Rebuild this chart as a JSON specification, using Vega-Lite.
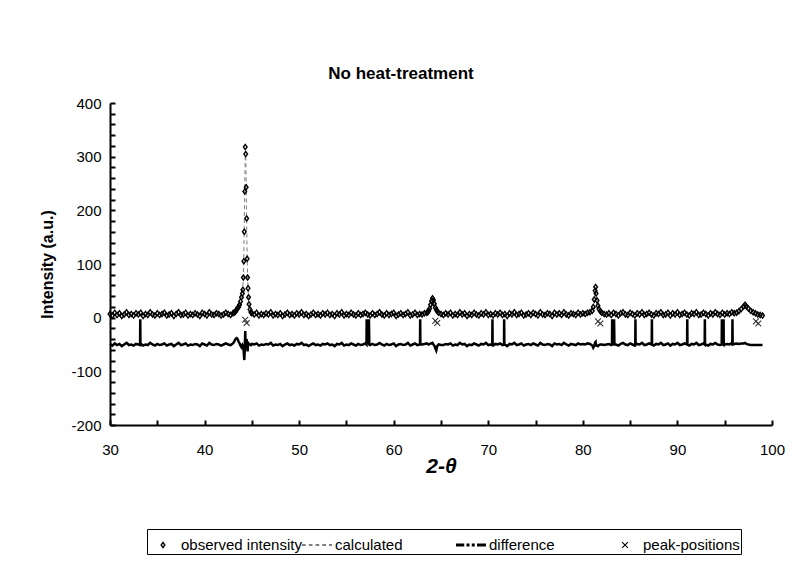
{
 "$schema": "https://vega.github.io/schema/vega-lite/v6.json",
 "width": 662,
 "height": 322,
 "autosize": {"type": "none"},
 "padding": {"left": 110, "top": 103, "right": 27, "bottom": 146},
 "background": "white",
 "config": {"view": {"stroke": null}, "font": "Liberation Sans"},
 "title": {"text": "No heat-treatment", "fontSize": 17, "fontWeight": "bold", "color": "black", "anchor": "middle", "dx": -40, "offset": 13},
 "datasets": {
  "scan": [
   {"t":30,"o":7,"c":6,"d":-49},{"t":30.25,"o":4,"c":6,"d":-52},{"t":30.5,"o":9,"c":6,"d":-48},{"t":30.75,"o":5,"c":6,"d":-51},
   {"t":31,"o":8,"c":6,"d":-49},{"t":31.25,"o":3,"c":6,"d":-53},{"t":31.5,"o":6,"c":6,"d":-50},{"t":31.75,"o":10,"c":6,"d":-47},
   {"t":32,"o":5,"c":6,"d":-51},{"t":32.25,"o":7,"c":6,"d":-50},{"t":32.5,"o":4,"c":6,"d":-52},{"t":32.75,"o":8,"c":6,"d":-49},
   {"t":33,"o":6,"c":6,"d":-50},{"t":33.18,"d":-51},{"t":33.2,"d":-3},{"t":33.22,"d":-50},
   {"t":33.25,"o":9,"c":6,"d":-48},{"t":33.5,"o":3,"c":6,"d":-52},{"t":33.75,"o":7,"c":6,"d":-50},
   {"t":34,"o":5,"c":6,"d":-51},{"t":34.25,"o":10,"c":6,"d":-47},{"t":34.5,"o":6,"c":6,"d":-50},{"t":34.75,"o":4,"c":6,"d":-52},
   {"t":35,"o":8,"c":6,"d":-49},{"t":35.25,"o":5,"c":6,"d":-51},{"t":35.5,"o":7,"c":6,"d":-50},{"t":35.75,"o":9,"c":6,"d":-48},
   {"t":36,"o":4,"c":6,"d":-52},{"t":36.25,"o":6,"c":6,"d":-50},{"t":36.5,"o":8,"c":6,"d":-49},{"t":36.75,"o":3,"c":6,"d":-53},
   {"t":37,"o":7,"c":6,"d":-50},{"t":37.25,"o":10,"c":6,"d":-47},{"t":37.5,"o":5,"c":6,"d":-51},{"t":37.75,"o":6,"c":6,"d":-50},
   {"t":38,"o":9,"c":6,"d":-48},{"t":38.25,"o":4,"c":6,"d":-52},{"t":38.5,"o":7,"c":6,"d":-50},{"t":38.75,"o":5,"c":6,"d":-51},
   {"t":39,"o":8,"c":6,"d":-49},{"t":39.25,"o":6,"c":6,"d":-50},{"t":39.5,"o":3,"c":6,"d":-53},{"t":39.75,"o":9,"c":6,"d":-48},
   {"t":40,"o":7,"c":6,"d":-50},{"t":40.25,"o":4,"c":6,"d":-52},{"t":40.5,"o":10,"c":6,"d":-47},{"t":40.75,"o":6,"c":6,"d":-50},
   {"t":41,"o":5,"c":6,"d":-51},{"t":41.25,"o":8,"c":6,"d":-49},{"t":41.5,"o":7,"c":6,"d":-50},{"t":41.75,"o":4,"c":6,"d":-52},
   {"t":42,"o":6,"c":6,"d":-50},{"t":42.25,"o":9,"c":7,"d":-48},{"t":42.5,"o":7,"c":7,"d":-50},{"t":42.75,"o":5,"c":7,"d":-51},
   {"t":43,"o":8,"c":7,"d":-48},{"t":43.1,"o":9,"c":7,"d":-46},{"t":43.2,"o":10,"c":8,"d":-42},{"t":43.3,"o":12,"c":10,"d":-39},
   {"t":43.4,"o":15,"c":13,"d":-38},{"t":43.5,"o":18,"c":16,"d":-40},{"t":43.6,"o":20,"c":19,"d":-45},{"t":43.7,"o":24,"c":24,"d":-48},
   {"t":43.8,"o":30,"c":31,"d":-52},{"t":43.9,"o":38,"c":40,"d":-55},{"t":44,"o":45,"c":46,"d":-51},{"t":44.05,"o":52,"c":55,"d":-53},
   {"t":44.1,"o":75,"c":80,"d":-55},{"t":44.15,"o":105,"c":120,"d":-65},{"t":44.2,"o":160,"c":175,"d":-79},{"t":44.25,"o":235,"c":245,"d":-60},
   {"t":44.3,"o":318,"c":300,"d":-25},{"t":44.35,"o":305,"c":310,"d":-55},{"t":44.4,"o":243,"c":250,"d":-57},{"t":44.45,"o":185,"c":175,"d":-40},
   {"t":44.5,"o":110,"c":115,"d":-55},{"t":44.55,"o":75,"c":78,"d":-63},{"t":44.6,"o":55,"c":52,"d":-47},{"t":44.65,"o":38,"c":36,"d":-48},
   {"t":44.7,"o":25,"c":26,"d":-49},{"t":44.8,"o":15,"c":15,"d":-50},{"t":44.9,"o":10,"c":10,"d":-51},{"t":45,"o":8,"c":7,"d":-49},
   {"t":45.25,"o":6,"c":6,"d":-50},{"t":45.5,"o":9,"c":6,"d":-48},{"t":45.75,"o":4,"c":6,"d":-52},
   {"t":46,"o":7,"c":6,"d":-50},{"t":46.25,"o":5,"c":6,"d":-51},{"t":46.5,"o":8,"c":6,"d":-49},{"t":46.75,"o":6,"c":6,"d":-50},
   {"t":47,"o":10,"c":6,"d":-47},{"t":47.25,"o":4,"c":6,"d":-52},{"t":47.5,"o":7,"c":6,"d":-50},{"t":47.75,"o":5,"c":6,"d":-51},
   {"t":48,"o":8,"c":6,"d":-49},{"t":48.25,"o":3,"c":6,"d":-53},{"t":48.5,"o":6,"c":6,"d":-50},{"t":48.75,"o":9,"c":6,"d":-48},
   {"t":49,"o":5,"c":6,"d":-51},{"t":49.25,"o":7,"c":6,"d":-50},{"t":49.5,"o":4,"c":6,"d":-52},{"t":49.75,"o":8,"c":6,"d":-49},
   {"t":50,"o":6,"c":6,"d":-50},{"t":50.25,"o":10,"c":6,"d":-47},{"t":50.5,"o":5,"c":6,"d":-51},{"t":50.75,"o":7,"c":6,"d":-50},
   {"t":51,"o":3,"c":6,"d":-53},{"t":51.25,"o":6,"c":6,"d":-50},{"t":51.5,"o":9,"c":6,"d":-48},{"t":51.75,"o":5,"c":6,"d":-51},
   {"t":52,"o":7,"c":6,"d":-50},{"t":52.25,"o":4,"c":6,"d":-52},{"t":52.5,"o":8,"c":6,"d":-49},{"t":52.75,"o":6,"c":6,"d":-50},
   {"t":53,"o":9,"c":6,"d":-48},{"t":53.25,"o":5,"c":6,"d":-51},{"t":53.5,"o":7,"c":6,"d":-50},{"t":53.75,"o":3,"c":6,"d":-53},
   {"t":54,"o":8,"c":6,"d":-49},{"t":54.25,"o":6,"c":6,"d":-50},{"t":54.5,"o":10,"c":6,"d":-47},{"t":54.75,"o":4,"c":6,"d":-52},
   {"t":55,"o":7,"c":6,"d":-50},{"t":55.25,"o":5,"c":6,"d":-51},{"t":55.5,"o":9,"c":6,"d":-48},{"t":55.75,"o":6,"c":6,"d":-50},
   {"t":56,"o":4,"c":6,"d":-52},{"t":56.25,"o":8,"c":6,"d":-49},{"t":56.5,"o":5,"c":6,"d":-51},{"t":56.75,"o":7,"c":6,"d":-50},
   {"t":57,"o":9,"c":6,"d":-48},{"t":57.12,"d":-50},{"t":57.14,"d":-3},{"t":57.2,"d":-50},{"t":57.24,"d":-3},
   {"t":57.25,"o":6,"c":6,"d":-50},{"t":57.3,"d":-3},{"t":57.34,"d":-50},{"t":57.38,"d":-3},{"t":57.42,"d":-50},
   {"t":57.5,"o":4,"c":6,"d":-51},{"t":57.75,"o":8,"c":6,"d":-49},
   {"t":58,"o":5,"c":6,"d":-51},{"t":58.25,"o":7,"c":6,"d":-50},{"t":58.5,"o":10,"c":6,"d":-47},{"t":58.75,"o":6,"c":6,"d":-50},
   {"t":59,"o":4,"c":6,"d":-52},{"t":59.25,"o":8,"c":6,"d":-49},{"t":59.5,"o":5,"c":6,"d":-51},{"t":59.75,"o":7,"c":6,"d":-50},
   {"t":60,"o":9,"c":6,"d":-48},{"t":60.25,"o":3,"c":6,"d":-53},{"t":60.5,"o":6,"c":6,"d":-50},{"t":60.75,"o":8,"c":6,"d":-49},
   {"t":61,"o":5,"c":6,"d":-51},{"t":61.25,"o":7,"c":6,"d":-50},{"t":61.5,"o":10,"c":6,"d":-47},{"t":61.75,"o":4,"c":6,"d":-52},
   {"t":62,"o":6,"c":6,"d":-50},{"t":62.25,"o":9,"c":6,"d":-48},{"t":62.5,"o":5,"c":6,"d":-51},{"t":62.75,"o":7,"c":6,"d":-50},
   {"t":62.78,"d":-50},{"t":62.8,"d":-3},{"t":62.82,"d":-50},
   {"t":63,"o":6,"c":6,"d":-50},{"t":63.25,"o":8,"c":7,"d":-49},{"t":63.5,"o":9,"c":8,"d":-48},
   {"t":63.6,"o":10,"c":9,"d":-49},{"t":63.7,"o":13,"c":12,"d":-50},{"t":63.8,"o":17,"c":16,"d":-49},{"t":63.9,"o":24,"c":22,"d":-48},
   {"t":64,"o":31,"c":29,"d":-48},{"t":64.1,"o":36,"c":33,"d":-47},{"t":64.2,"o":33,"c":32,"d":-50},{"t":64.3,"o":26,"c":27,"d":-52},
   {"t":64.4,"o":19,"c":21,"d":-57},{"t":64.5,"o":15,"c":16,"d":-61},{"t":64.6,"o":12,"c":12,"d":-53},{"t":64.75,"o":9,"c":9,"d":-50},
   {"t":65,"o":7,"c":7,"d":-51},{"t":65.25,"o":5,"c":6,"d":-51},{"t":65.5,"o":8,"c":6,"d":-49},{"t":65.75,"o":6,"c":6,"d":-50},
   {"t":66,"o":9,"c":6,"d":-48},{"t":66.25,"o":4,"c":6,"d":-52},{"t":66.5,"o":7,"c":6,"d":-50},{"t":66.75,"o":5,"c":6,"d":-51},
   {"t":67,"o":10,"c":6,"d":-47},{"t":67.25,"o":6,"c":6,"d":-50},{"t":67.5,"o":8,"c":6,"d":-49},{"t":67.75,"o":3,"c":6,"d":-53},
   {"t":68,"o":7,"c":6,"d":-50},{"t":68.25,"o":5,"c":6,"d":-51},{"t":68.5,"o":9,"c":6,"d":-48},{"t":68.75,"o":6,"c":6,"d":-50},
   {"t":69,"o":4,"c":6,"d":-52},{"t":69.25,"o":8,"c":6,"d":-49},{"t":69.5,"o":6,"c":6,"d":-50},{"t":69.75,"o":10,"c":6,"d":-47},
   {"t":70,"o":5,"c":6,"d":-51},{"t":70.25,"o":7,"c":6,"d":-50},{"t":70.42,"d":-51},{"t":70.44,"d":-3},{"t":70.46,"d":-51},
   {"t":70.5,"o":4,"c":6,"d":-52},{"t":70.75,"o":8,"c":6,"d":-49},
   {"t":71,"o":6,"c":6,"d":-50},{"t":71.25,"o":9,"c":6,"d":-48},{"t":71.5,"o":5,"c":6,"d":-51},
   {"t":71.66,"d":-50},{"t":71.68,"d":-3},{"t":71.7,"d":-50},{"t":71.75,"o":7,"c":6,"d":-50},
   {"t":72,"o":3,"c":6,"d":-53},{"t":72.25,"o":8,"c":6,"d":-49},{"t":72.5,"o":6,"c":6,"d":-50},{"t":72.75,"o":10,"c":6,"d":-47},
   {"t":73,"o":5,"c":6,"d":-51},{"t":73.25,"o":7,"c":6,"d":-50},{"t":73.5,"o":9,"c":6,"d":-48},{"t":73.75,"o":4,"c":6,"d":-52},
   {"t":74,"o":6,"c":6,"d":-50},{"t":74.25,"o":8,"c":6,"d":-49},{"t":74.5,"o":5,"c":6,"d":-51},{"t":74.75,"o":9,"c":6,"d":-48},
   {"t":75,"o":7,"c":6,"d":-50},{"t":75.25,"o":4,"c":6,"d":-52},{"t":75.5,"o":10,"c":6,"d":-47},{"t":75.75,"o":6,"c":6,"d":-50},
   {"t":76,"o":5,"c":6,"d":-51},{"t":76.25,"o":8,"c":6,"d":-49},{"t":76.5,"o":7,"c":6,"d":-50},{"t":76.75,"o":3,"c":6,"d":-53},
   {"t":77,"o":9,"c":6,"d":-48},{"t":77.25,"o":6,"c":6,"d":-50},{"t":77.5,"o":8,"c":6,"d":-49},{"t":77.75,"o":5,"c":6,"d":-51},
   {"t":78,"o":10,"c":6,"d":-47},{"t":78.25,"o":6,"c":6,"d":-50},{"t":78.5,"o":4,"c":6,"d":-52},{"t":78.75,"o":8,"c":6,"d":-49},
   {"t":79,"o":7,"c":6,"d":-50},{"t":79.25,"o":5,"c":6,"d":-51},{"t":79.5,"o":9,"c":6,"d":-48},{"t":79.75,"o":6,"c":6,"d":-50},
   {"t":80,"o":8,"c":7,"d":-49},{"t":80.25,"o":7,"c":7,"d":-50},{"t":80.5,"o":9,"c":8,"d":-48},{"t":80.75,"o":10,"c":9,"d":-49},
   {"t":81,"o":13,"c":12,"d":-52},{"t":81.1,"o":20,"c":18,"d":-56},{"t":81.2,"o":34,"c":30,"d":-53},{"t":81.3,"o":50,"c":46,"d":-46},
   {"t":81.35,"o":57,"c":52,"d":-45},{"t":81.4,"o":45,"c":47,"d":-52},{"t":81.5,"o":32,"c":34,"d":-52},{"t":81.6,"o":22,"c":24,"d":-53},
   {"t":81.7,"o":16,"c":17,"d":-51},{"t":81.85,"o":12,"c":12,"d":-50},{"t":82,"o":9,"c":9,"d":-50},{"t":82.25,"o":7,"c":7,"d":-51},
   {"t":82.5,"o":6,"c":6,"d":-50},{"t":82.75,"o":8,"c":6,"d":-49},{"t":83,"o":5,"c":6,"d":-51},
   {"t":83.08,"d":-50},{"t":83.1,"d":-3},{"t":83.14,"d":-50},{"t":83.18,"d":-3},{"t":83.22,"d":-50},
   {"t":83.25,"o":9,"c":7,"d":-48},{"t":83.3,"d":-3},{"t":83.34,"d":-50},
   {"t":83.5,"o":7,"c":7,"d":-50},{"t":83.75,"o":4,"c":7,"d":-52},
   {"t":84,"o":8,"c":7,"d":-49},{"t":84.25,"o":10,"c":7,"d":-47},{"t":84.5,"o":6,"c":7,"d":-50},{"t":84.75,"o":5,"c":7,"d":-51},
   {"t":85,"o":9,"c":7,"d":-48},{"t":85.25,"o":7,"c":7,"d":-50},{"t":85.5,"o":4,"c":7,"d":-52},
   {"t":85.54,"d":-51},{"t":85.56,"d":-3},{"t":85.58,"d":-50},{"t":85.75,"o":8,"c":7,"d":-49},
   {"t":86,"o":6,"c":7,"d":-50},{"t":86.25,"o":10,"c":7,"d":-47},{"t":86.5,"o":5,"c":7,"d":-51},{"t":86.75,"o":7,"c":7,"d":-50},
   {"t":87,"o":9,"c":7,"d":-48},{"t":87.25,"o":6,"c":7,"d":-50},{"t":87.28,"d":-50},{"t":87.3,"d":-3},{"t":87.32,"d":-50},
   {"t":87.5,"o":4,"c":7,"d":-52},{"t":87.75,"o":8,"c":7,"d":-49},
   {"t":88,"o":7,"c":7,"d":-50},{"t":88.25,"o":10,"c":7,"d":-47},{"t":88.5,"o":5,"c":7,"d":-51},{"t":88.75,"o":6,"c":7,"d":-50},
   {"t":89,"o":9,"c":7,"d":-48},{"t":89.25,"o":4,"c":7,"d":-52},{"t":89.5,"o":8,"c":7,"d":-49},{"t":89.75,"o":6,"c":7,"d":-50},
   {"t":90,"o":10,"c":7,"d":-47},{"t":90.25,"o":5,"c":7,"d":-51},{"t":90.5,"o":7,"c":7,"d":-50},{"t":90.75,"o":9,"c":7,"d":-48},
   {"t":91,"o":6,"c":7,"d":-50},{"t":91.02,"d":-50},{"t":91.04,"d":-3},{"t":91.06,"d":-50},
   {"t":91.25,"o":4,"c":7,"d":-52},{"t":91.5,"o":8,"c":7,"d":-49},{"t":91.75,"o":7,"c":7,"d":-50},
   {"t":92,"o":10,"c":7,"d":-47},{"t":92.25,"o":5,"c":7,"d":-51},{"t":92.5,"o":6,"c":7,"d":-50},{"t":92.75,"o":9,"c":7,"d":-48},
   {"t":92.88,"d":-50},{"t":92.9,"d":-3},{"t":92.92,"d":-50},
   {"t":93,"o":7,"c":7,"d":-50},{"t":93.25,"o":4,"c":7,"d":-52},{"t":93.5,"o":8,"c":7,"d":-49},{"t":93.75,"o":6,"c":7,"d":-50},
   {"t":94,"o":10,"c":7,"d":-47},{"t":94.25,"o":7,"c":7,"d":-50},{"t":94.5,"o":5,"c":7,"d":-51},
   {"t":94.68,"d":-50},{"t":94.7,"d":-3},{"t":94.72,"d":-50},{"t":94.75,"o":9,"c":7,"d":-48},
   {"t":94.86,"d":-50},{"t":94.88,"d":-3},{"t":94.9,"d":-50},
   {"t":95,"o":6,"c":7,"d":-50},{"t":95.25,"o":8,"c":7,"d":-49},{"t":95.5,"o":7,"c":7,"d":-50},{"t":95.75,"o":10,"c":8,"d":-47},
   {"t":95.8,"d":-50},{"t":95.82,"d":-3},{"t":95.84,"d":-50},
   {"t":96,"o":8,"c":8,"d":-49},{"t":96.25,"o":9,"c":9,"d":-48},
   {"t":96.5,"o":12,"c":11,"d":-49},{"t":96.75,"o":16,"c":14,"d":-48},{"t":97,"o":21,"c":19,"d":-48},{"t":97.15,"o":24,"c":21,"d":-47},
   {"t":97.3,"o":21,"c":20,"d":-49},{"t":97.5,"o":17,"c":17,"d":-50},{"t":97.75,"o":13,"c":14,"d":-51},{"t":98,"o":10,"c":11,"d":-51},
   {"t":98.25,"o":8,"c":9,"d":-51},{"t":98.5,"o":6,"c":7,"d":-51},{"t":98.75,"o":5,"c":6,"d":-51},{"t":99,"o":4,"c":5,"d":-51}
  ],
  "pk": [
   {"t":44.3,"v":-4},{"t":44.45,"v":-10},{"t":64.4,"v":-6},{"t":64.6,"v":-10},
   {"t":81.6,"v":-7},{"t":81.85,"v":-11},{"t":98.3,"v":-7},{"t":98.55,"v":-11}
  ]
 },
 "layer": [
  {
   "data": {"name": "scan"},
   "mark": {"type": "line", "color": "#000", "strokeWidth": 2.5, "invalid": "filter"},
   "encoding": {
    "x": {"field": "t", "type": "quantitative", "scale": {"domain": [30, 100], "nice": false, "zero": false},
     "axis": {"title": "2-θ", "titleFontSize": 21, "titleFontWeight": "bold", "titleFontStyle": "italic", "titleColor": "#000", "titlePadding": -2,
      "values": [30,35,40,45,50,55,60,65,70,75,80,85,90,95,100], "tickCount": 100,
      "labelExpr": "datum.value % 10 === 0 ? '' + datum.value : ''",
      "labelFontSize": 15, "labelColor": "#000", "labelPadding": 22, "labelFlush": false, "labelOverlap": false,
      "tickSize": -5, "tickWidth": 2, "tickColor": "#000", "domainColor": "#000", "domainWidth": 2, "grid": false}},
    "y": {"field": "d", "type": "quantitative", "scale": {"domain": [-200, 400], "nice": false, "zero": false},
     "axis": {"title": "Intensity (a.u.)", "titleFontSize": 16, "titleFontWeight": "bold", "titleColor": "#000", "titlePadding": 15,
      "values": [-200,-180,-160,-140,-120,-100,-80,-60,-40,-20,0,20,40,60,80,100,120,140,160,180,200,220,240,260,280,300,320,340,360,380,400], "tickCount": 100,
      "labelExpr": "datum.value % 100 === 0 ? '' + datum.value : ''",
      "labelFontSize": 15, "labelColor": "#000", "labelPadding": 14, "labelFlush": false, "labelOverlap": false,
      "tickSize": -5, "tickWidth": 2, "tickColor": "#000", "domainColor": "#000", "domainWidth": 2, "grid": false}}
   }
  },
  {
   "data": {"name": "scan"},
   "mark": {"type": "line", "color": "#808080", "strokeWidth": 1, "strokeDash": [4, 3], "invalid": "filter"},
   "encoding": {
    "x": {"field": "t", "type": "quantitative"},
    "y": {"field": "c", "type": "quantitative"}
   }
  },
  {
   "data": {"name": "scan"},
   "mark": {"type": "point", "filled": true, "color": "#000", "size": 900, "opacity": 1, "invalid": "filter"},
   "encoding": {
    "x": {"field": "t", "type": "quantitative"},
    "y": {"field": "o", "type": "quantitative"},
    "shape": {"datum": "observed intensity", "type": "nominal",
     "scale": {"domain": ["observed intensity", "calculated", "difference", "peak-positions"],
      "range": [
       "M0,-0.25L0.18,0L0,0.25L-0.18,0ZM0,-0.1L-0.06,0L0,0.1L0.06,0Z",
       "M-1,-0.03H-0.75V0.03H-1ZM-0.55,-0.03H-0.3V0.03H-0.55ZM-0.1,-0.03H0.15V0.03H-0.1ZM0.35,-0.03H0.6V0.03H0.35ZM0.8,-0.03H1V0.03H0.8Z",
       "M-1,-0.1H-0.45V0.1H-1ZM-0.3,-0.1H-0.1V0.1H-0.3ZM0.05,-0.1H0.25V0.1H0.05ZM0.4,-0.1H1V0.1H0.4Z",
       "M-0.22,-0.17L-0.17,-0.22L0.22,0.17L0.17,0.22ZM0.17,-0.22L0.22,-0.17L-0.17,0.22L-0.22,0.17Z"
      ]},
     "legend": {"title": null, "orient": "none", "legendX": 37, "legendY": 426, "direction": "horizontal", "columns": 4,
      "gridAlign": "all", "strokeColor": "#000", "padding": 1, "columnPadding": 0,
      "symbolSize": 900, "symbolFillColor": "#000", "symbolStrokeWidth": 0, "symbolOpacity": 1,
      "labelFontSize": 15, "labelColor": "#000", "labelOffset": 3, "labelLimit": 400}}
   }
  },
  {
   "data": {"name": "pk"},
   "mark": {"type": "point", "filled": true, "color": "#333", "size": 900, "opacity": 1},
   "encoding": {
    "x": {"field": "t", "type": "quantitative"},
    "y": {"field": "v", "type": "quantitative"},
    "shape": {"datum": "peak-positions", "type": "nominal"}
   }
  }
 ]
}
